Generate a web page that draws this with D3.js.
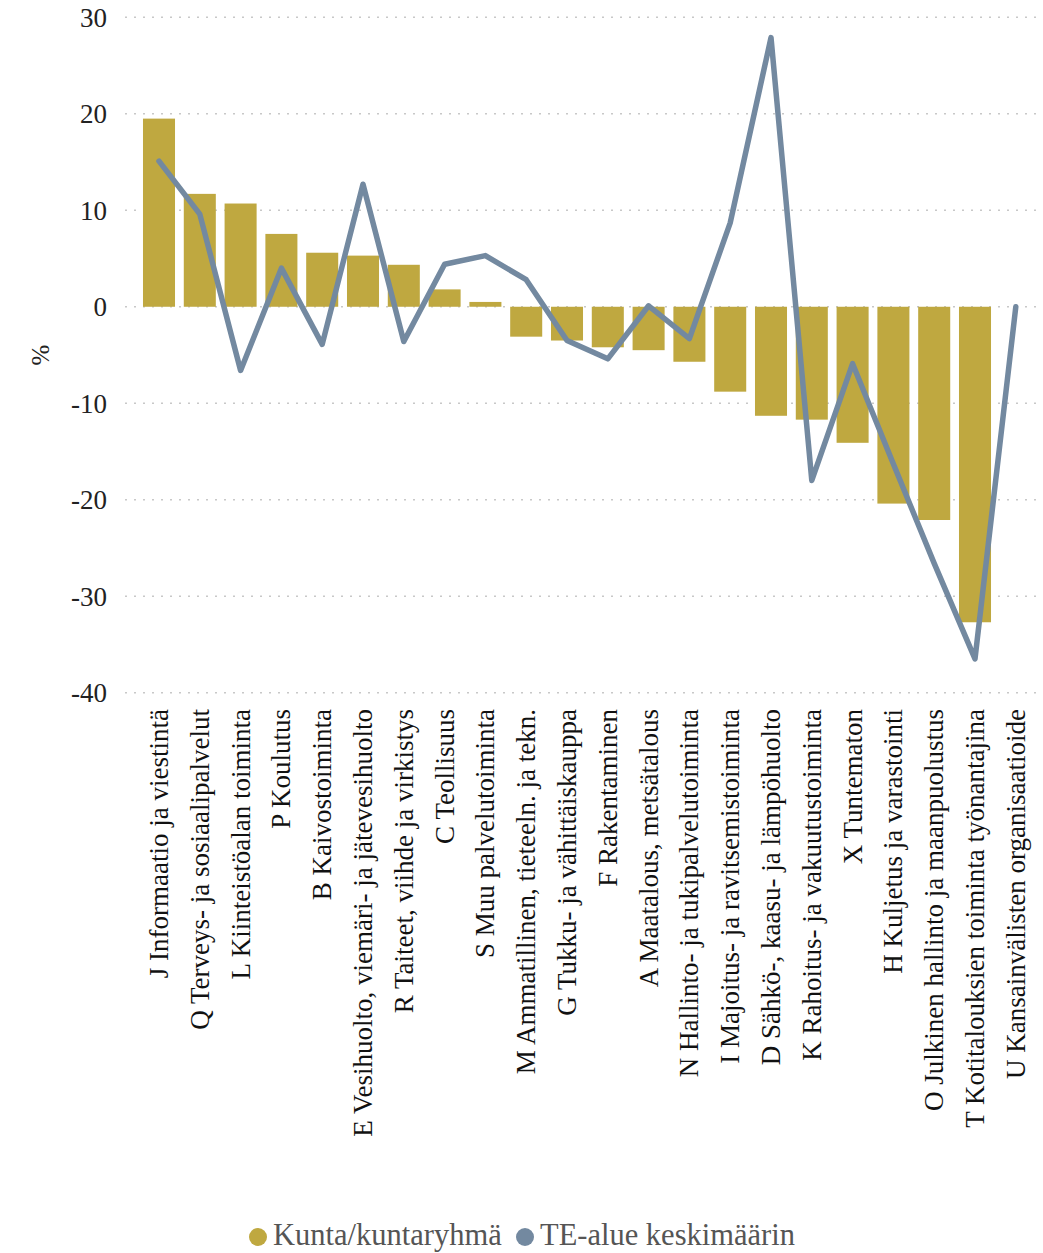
<!DOCTYPE html>
<html>
<head>
<meta charset="utf-8">
<script src="https://cdn.jsdelivr.net/npm/d3@7"></script>
<style>
  html, body { margin: 0; padding: 0; background: #fff; }
  svg { display: block; }
  text { font-family: "Liberation Serif", "Times New Roman", serif; }
</style>
</head>
<body>
<svg id="chart" width="1043" height="1253"></svg>
<script>
const categories = [
  "J Informaatio ja viestintä",
  "Q Terveys- ja sosiaalipalvelut",
  "L Kiinteistöalan toiminta",
  "P Koulutus",
  "B Kaivostoiminta",
  "E Vesihuolto, viemäri- ja jätevesihuolto",
  "R Taiteet, viihde ja virkistys",
  "C Teollisuus",
  "S Muu palvelutoiminta",
  "M Ammatillinen, tieteeln. ja tekn.",
  "G Tukku- ja vähittäiskauppa",
  "F Rakentaminen",
  "A Maatalous, metsätalous",
  "N Hallinto- ja tukipalvelutoiminta",
  "I Majoitus- ja ravitsemistoiminta",
  "D Sähkö-, kaasu- ja lämpöhuolto",
  "K Rahoitus- ja vakuutustoiminta",
  "X Tuntematon",
  "H Kuljetus ja varastointi",
  "O Julkinen hallinto ja maanpuolustus",
  "T Kotitalouksien toiminta työnantajina",
  "U Kansainvälisten organisaatioide"
];
const kuntaValues = [19.5, 11.7, 10.7, 7.55, 5.6, 5.3, 4.35, 1.8, 0.5, -3.1, -3.5, -4.2, -4.5, -5.7, -8.8, -11.3, -11.7, -14.1, -20.4, -22.1, -32.7, 0];
const teValues = [15.1, 9.6, -6.6, 4.0, -3.9, 12.7, -3.6, 4.4, 5.3, 2.8, -3.5, -5.4, 0.1, -3.3, 8.7, 27.9, -18.0, -5.9, -16.3, -26.6, -36.5, 0];
const yTicks = [30, 20, 10, 0, -10, -20, -30, -40];
const seriesNames = ["Kunta/kuntaryhmä", "TE-alue keskimäärin"];
const seriesColors = ["#bfa840", "#7389a0"];

const svg = d3.select("#chart");

const x = d3.scaleBand()
  .domain(categories)
  .range([138.6, 1036.2])
  .paddingInner(0.215)
  .paddingOuter(0.1075);

const y = d3.scaleLinear()
  .domain([-40, 30])
  .range([692.7, 17.3]);

// gridlines
svg.append("g")
  .selectAll("line")
  .data(yTicks)
  .join("line")
  .attr("x1", 125)
  .attr("x2", 1043)
  .attr("y1", d => y(d))
  .attr("y2", d => y(d))
  .attr("stroke", "#c8c8c8")
  .attr("stroke-width", 1.6)
  .attr("stroke-dasharray", "2,7");

// y axis labels
const yAxis = d3.axisLeft(y).tickValues(yTicks).tickFormat(d => String(d)).tickSize(0).tickPadding(0);
const yg = svg.append("g").attr("transform", "translate(107,0)").call(yAxis);
yg.select(".domain").remove();
yg.selectAll("text")
  .attr("font-family", "Liberation Serif, serif")
  .attr("font-size", 27)
  .attr("fill", "#222")
  .attr("dy", "0.34em");

// y title
svg.append("text")
  .attr("transform", "translate(49,355) rotate(-90)")
  .attr("text-anchor", "middle")
  .attr("font-size", 25)
  .attr("fill", "#222")
  .text("%");

// bars
svg.append("g")
  .selectAll("rect")
  .data(categories.map((c, i) => ({c, v: kuntaValues[i]})))
  .join("rect")
  .attr("x", d => x(d.c))
  .attr("width", x.bandwidth())
  .attr("y", d => y(Math.max(0, d.v)))
  .attr("height", d => Math.abs(y(d.v) - y(0)))
  .attr("fill", seriesColors[0]);

// line
const line = d3.line()
  .x((d, i) => x(categories[i]) + x.bandwidth() / 2)
  .y(d => y(d));
svg.append("path")
  .datum(teValues)
  .attr("d", line)
  .attr("fill", "none")
  .attr("stroke", seriesColors[1])
  .attr("stroke-width", 5.5)
  .attr("stroke-linejoin", "round")
  .attr("stroke-linecap", "round");

// x labels
const xAxis = d3.axisBottom(x).tickSize(0).tickPadding(0);
const xg = svg.append("g").attr("transform", "translate(0,709)").call(xAxis);
xg.select(".domain").remove();
xg.selectAll("text")
  .attr("font-family", "Liberation Serif, serif")
  .attr("font-size", 27)
  .attr("fill", "#111")
  .attr("transform", "rotate(-90)")
  .attr("text-anchor", "end")
  .attr("x", 0)
  .attr("y", 0)
  .attr("dy", "0.33em");

// legend
const legendX = [258, 525];
const leg = svg.append("g");
seriesNames.forEach((n, i) => {
  leg.append("circle")
    .attr("cx", legendX[i])
    .attr("cy", 1237)
    .attr("r", 9)
    .attr("fill", seriesColors[i]);
  leg.append("text")
    .attr("x", legendX[i] + 15)
    .attr("y", 1244.5)
    .attr("font-size", 30.5)
    .attr("fill", "#555")
    .text(n);
});
</script>
</body>
</html>
